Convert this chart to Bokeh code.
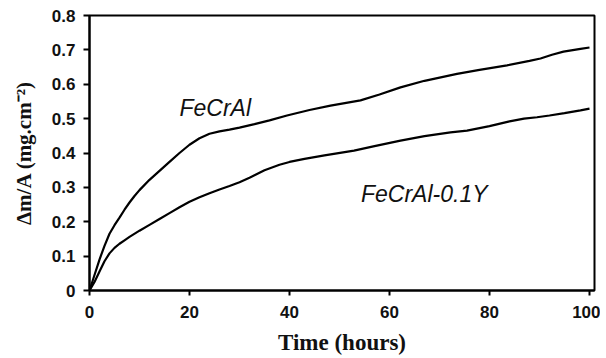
from bokeh.plotting import figure
from bokeh.models import Range1d, FixedTicker, Label
from bokeh.embed import file_html
from bokeh.resources import INLINE

# Data
t_fecral = [0, 1, 2, 3, 4, 5, 6, 7, 8, 9, 10, 12, 14, 16, 18, 20, 22, 24, 26, 28, 30,
            33, 36, 39.5, 44, 48.2, 54.2, 58, 62.2, 67, 73.5, 78, 83.5, 88, 90.2, 92.5,
            94.8, 98.2, 100]
v_fecral = [0, 0.045, 0.09, 0.13, 0.165, 0.19, 0.212, 0.235, 0.256, 0.275, 0.292, 0.322,
            0.348, 0.374, 0.4, 0.424, 0.443, 0.456, 0.463, 0.468, 0.474, 0.484, 0.495, 0.509,
            0.525, 0.538, 0.553, 0.57, 0.591, 0.61, 0.63, 0.642, 0.655, 0.668, 0.675, 0.686,
            0.695, 0.703, 0.707]

t_fecraly = [0, 1, 2, 3, 4, 5, 6, 7, 8, 10, 12, 14, 16, 18, 20, 22, 24, 26, 28, 30, 32, 35,
             38, 40, 43, 47, 52.9, 57, 62.2, 67, 72.2, 75.5, 80, 84, 86.9, 89.5, 92, 95, 98.2, 100]
v_fecraly = [0, 0.025, 0.055, 0.085, 0.108, 0.124, 0.136, 0.146, 0.156, 0.174, 0.191, 0.208,
             0.225, 0.242, 0.258, 0.271, 0.283, 0.294, 0.304, 0.315, 0.328, 0.35, 0.366, 0.374,
             0.383, 0.393, 0.407, 0.42, 0.436, 0.449, 0.46, 0.465, 0.478, 0.492, 0.5, 0.504,
             0.509, 0.516, 0.524, 0.529]

x_ticks = [0, 20, 40, 60, 80, 100]
y_ticks = [0, 0.1, 0.2, 0.3, 0.4, 0.5, 0.6, 0.7, 0.8]
y_tick_labels = ["0", "0.1", "0.2", "0.3", "0.4", "0.5", "0.6", "0.7", "0.8"]

series_labels = ["FeCrAl", "FeCrAl-0.1Y"]
label_pos_t = [18, 54.3]
label_pos_v = [0.532, 0.282]

p = figure(width=600, height=358, output_backend="svg", toolbar_location=None,
           x_range=Range1d(0, 101), y_range=Range1d(0, 0.8),
           min_border_left=89, min_border_right=6, min_border_top=15, min_border_bottom=68)

p.background_fill_color = "white"
p.border_fill_color = "white"
p.outline_line_color = "black"
p.outline_line_width = 2
p.grid.visible = False

p.line(t_fecral, v_fecral, line_color="black", line_width=2.2)
p.line(t_fecraly, v_fecraly, line_color="black", line_width=2.2)

for txt, tx, ty in zip(series_labels, label_pos_t, label_pos_v):
    p.add_layout(Label(x=tx, y=ty, text=txt, text_font="Liberation Sans",
                       text_font_style="italic", text_font_size="23px",
                       text_color="#111111", text_baseline="alphabetic"))

p.xaxis.ticker = FixedTicker(ticks=x_ticks)
p.yaxis.ticker = FixedTicker(ticks=y_ticks)
p.yaxis.major_label_overrides = {v: s for v, s in zip(y_ticks, y_tick_labels)}

for ax in (p.xaxis, p.yaxis):
    ax.axis_line_width = 2
    ax.axis_line_color = "black"
    ax.major_tick_line_width = 2
    ax.major_tick_line_color = "black"
    ax.major_tick_in = 0
    ax.minor_tick_line_color = None
    ax.major_label_text_font = "Liberation Sans"
    ax.major_label_text_font_style = "bold"
    ax.major_label_text_font_size = "17px"
    ax.major_label_text_color = "#111111"
    ax.axis_label_text_font = "Liberation Serif"
    ax.axis_label_text_font_style = "bold"
    ax.axis_label_text_color = "#111111"

p.xaxis.major_tick_out = 5
p.yaxis.major_tick_out = 6
p.xaxis.major_label_standoff = 10
p.yaxis.major_label_standoff = 8
p.xaxis.axis_label = "Time (hours)"
p.xaxis.axis_label_text_font_size = "23px"
p.xaxis.axis_label_standoff = 9
p.yaxis.axis_label = "\u0394m/A (mg.cm\u207b\u00b2)"
p.yaxis.axis_label_text_font_size = "21px"
p.yaxis.axis_label_standoff = 13

open("out.html", "w").write(file_html(p, INLINE))
